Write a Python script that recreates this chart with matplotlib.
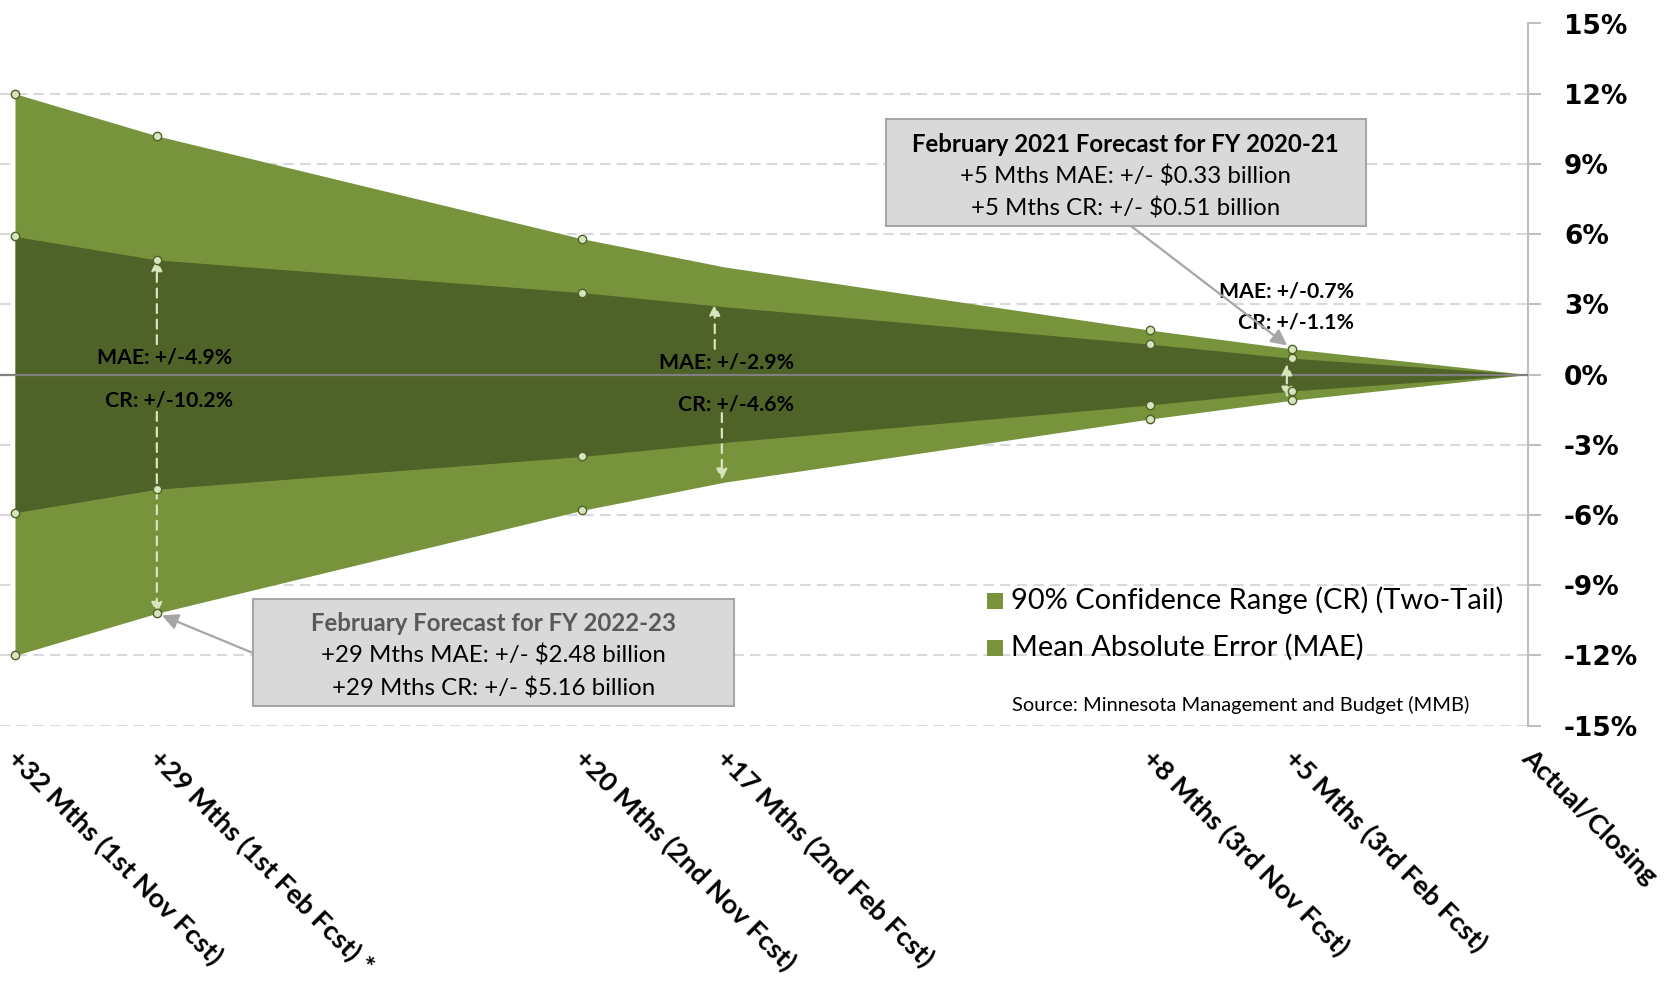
import matplotlib.pyplot as plt
from matplotlib.patches import Rectangle
from matplotlib.transforms import ScaledTranslation

# forecast horizon (months before close) and error bands in %
months = [32, 29, 20, 17, 8, 5, 0]
tick_labels = ["+32 Mths (1st Nov Fcst)", "+29 Mths (1st Feb Fcst) *",
               "+20 Mths (2nd Nov Fcst)", "+17 Mths (2nd Feb Fcst)",
               "+8 Mths (3rd Nov Fcst)", "+5 Mths (3rd Feb Fcst)", "Actual/Closing"]
cr = [12.0, 10.2, 5.8, 4.6, 1.9, 1.1, 0.0]
mae = [5.9, 4.9, 3.5, 2.9, 1.3, 0.7, 0.0]
has_marker = [True, True, True, False, True, True, False]

W, H = 1673, 981
CR_COL = "#77933C"
MAE_COL = "#4F6228"
LIGHT = "#D7E4BD"
FONT = ["Lato", "DejaVu Sans"]


def px(x, y):
    # pixel position (top-left origin) -> figure fraction
    return (x / W, 1 - y / H)


fig = plt.figure(figsize=(W / 100, H / 100), dpi=100)
ax = fig.add_axes([0, 1 - 725.6 / H, 1528 / W, (725.6 - 23.5) / H])

ax.fill_between(months, [-v for v in cr], cr, color=CR_COL, lw=0, zorder=1)
ax.fill_between(months, [-v for v in mae], mae, color=MAE_COL, lw=0, zorder=2)
ax.axhline(0, color="#808080", lw=1.6, zorder=3)

mx = [m for m, k in zip(months, has_marker) if k]
for vals in (cr, mae):
    mv = [v for v, k in zip(vals, has_marker) if k]
    for sgn in (1, -1):
        ax.plot(mx, [sgn * v for v in mv], "o", ms=6, mfc=LIGHT, mec=MAE_COL,
                mew=1, zorder=5, clip_on=False)

ax.set_xlim(32 + 15 / 47.28, 0)
ax.set_ylim(-15, 15)
ax.set_yticks(range(-15, 16, 3))
ax.set_yticklabels([f"{t}%" for t in range(-15, 16, 3)])
ax.yaxis.tick_right()
ax.yaxis.grid(True, ls=(0, (5, 3)), color="#D9D9D9", lw=1.5)
ax.set_axisbelow(True)
for s in ("top", "left", "bottom"):
    ax.spines[s].set_visible(False)
ax.spines["right"].set_color("#BFBFBF")
ax.spines["right"].set_linewidth(1.5)
ax.tick_params(axis="y", length=9, width=1.5, color="#BFBFBF", pad=17)
for lab in ax.get_yticklabels():
    lab.set_fontfamily("DejaVu Sans")
    lab.set_fontweight("bold")
    lab.set_fontsize(19)

ax.set_xticks(months)
ax.set_xticklabels(tick_labels)
ax.tick_params(axis="x", length=0, pad=14)
shift = ScaledTranslation(6 / 100, 0, fig.dpi_scale_trans)
for lab in ax.get_xticklabels():
    lab.set_fontfamily(FONT)
    lab.set_fontweight("bold")
    lab.set_fontsize(19.6)
    lab.set_rotation(-45)
    lab.set_ha("left")
    lab.set_va("top")
    lab.set_rotation_mode("anchor")
    lab.set_transform(lab.get_transform() + shift)

# dashed pointer arrows
dash = dict(arrowstyle="-|>", color=LIGHT, lw=1.6, ls=(0, (4, 3)),
            mutation_scale=16, shrinkA=0, shrinkB=0)
for x, y0, y1 in [(29, 1.3, 4.9), (29, -1.6, -10.2), (17.2, 1.1, 3.0),
                  (17.05, -1.65, -4.5), (5.1, 0.0, 0.45), (5.1, 0.0, -1.0)]:
    ax.annotate("", xy=(x, y1), xytext=(x, y0), arrowprops=dash, zorder=4)

for x, y, t in [(28.83, 0.73, "MAE: +/-4.9%"), (28.75, -1.09, "CR: +/-10.2%"),
                (16.96, 0.5, "MAE: +/-2.9%"), (16.76, -1.28, "CR: +/-4.6%"),
                (5.1, 3.56, "MAE: +/-0.7%"), (4.9, 2.23, "CR: +/-1.1%")]:
    ax.text(x, y, t, ha="center", va="center", fontsize=15.3, fontweight="bold",
            family=FONT, zorder=6)

# call-out boxes
gray = dict(arrowstyle="-|>", color="#A6A6A6", lw=1.6, mutation_scale=24,
            shrinkA=0, shrinkB=4)
ax.annotate("", xy=(5, 1.1), xytext=px(1131, 226), textcoords="figure fraction",
            arrowprops=gray, zorder=6)
ax.annotate("", xy=(29, -10.2), xytext=px(253, 653), textcoords="figure fraction",
            arrowprops=gray, zorder=6)

boxes = [
    (885.6, 119.5, 1365.8, 226.2, "#000000",
     ["February 2021 Forecast for FY 2020-21", "+5 Mths MAE: +/- $0.33 billion",
      "+5 Mths CR: +/- $0.51 billion"]),
    (252.9, 598.6, 734.1, 706.4, "#595959",
     ["February Forecast for FY 2022-23", "+29 Mths MAE: +/- $2.48 billion",
      "+29 Mths CR: +/- $5.16 billion"]),
]
for x0, y0, x1, y1, tcol, lines in boxes:
    fig.patches.append(Rectangle(px(x0, y1), (x1 - x0) / W, (y1 - y0) / H,
                                 transform=fig.transFigure, fc="#D9D9D9",
                                 ec="#A6A6A6", lw=1.5, zorder=7))
    cx = (x0 + x1) / 2
    for i, line in enumerate(lines):
        fig.text(*px(cx, y0 + 24.5 + 32.5 * i), line, ha="center", va="center",
                 family=FONT, fontsize=17.3, color=tcol if i == 0 else "black",
                 fontweight="bold" if i == 0 else "normal", zorder=8)

# legend (both series shown with the same swatch colour as in the original)
for i, lab in enumerate(["90% Confidence Range (CR) (Two-Tail)", "Mean Absolute Error (MAE)"]):
    yc = 600.5 + 47 * i
    fig.patches.append(Rectangle(px(987, yc + 8), 16 / W, 16 / H,
                                 transform=fig.transFigure, fc=CR_COL, lw=0))
    fig.text(*px(1011, yc), lab, ha="left", va="center", family=FONT, fontsize=20.9)

fig.text(*px(1012, 705), "Source: Minnesota Management and Budget (MMB)",
         ha="left", va="center", family=FONT, fontsize=14.4)

fig.savefig("out.png", dpi=100)
